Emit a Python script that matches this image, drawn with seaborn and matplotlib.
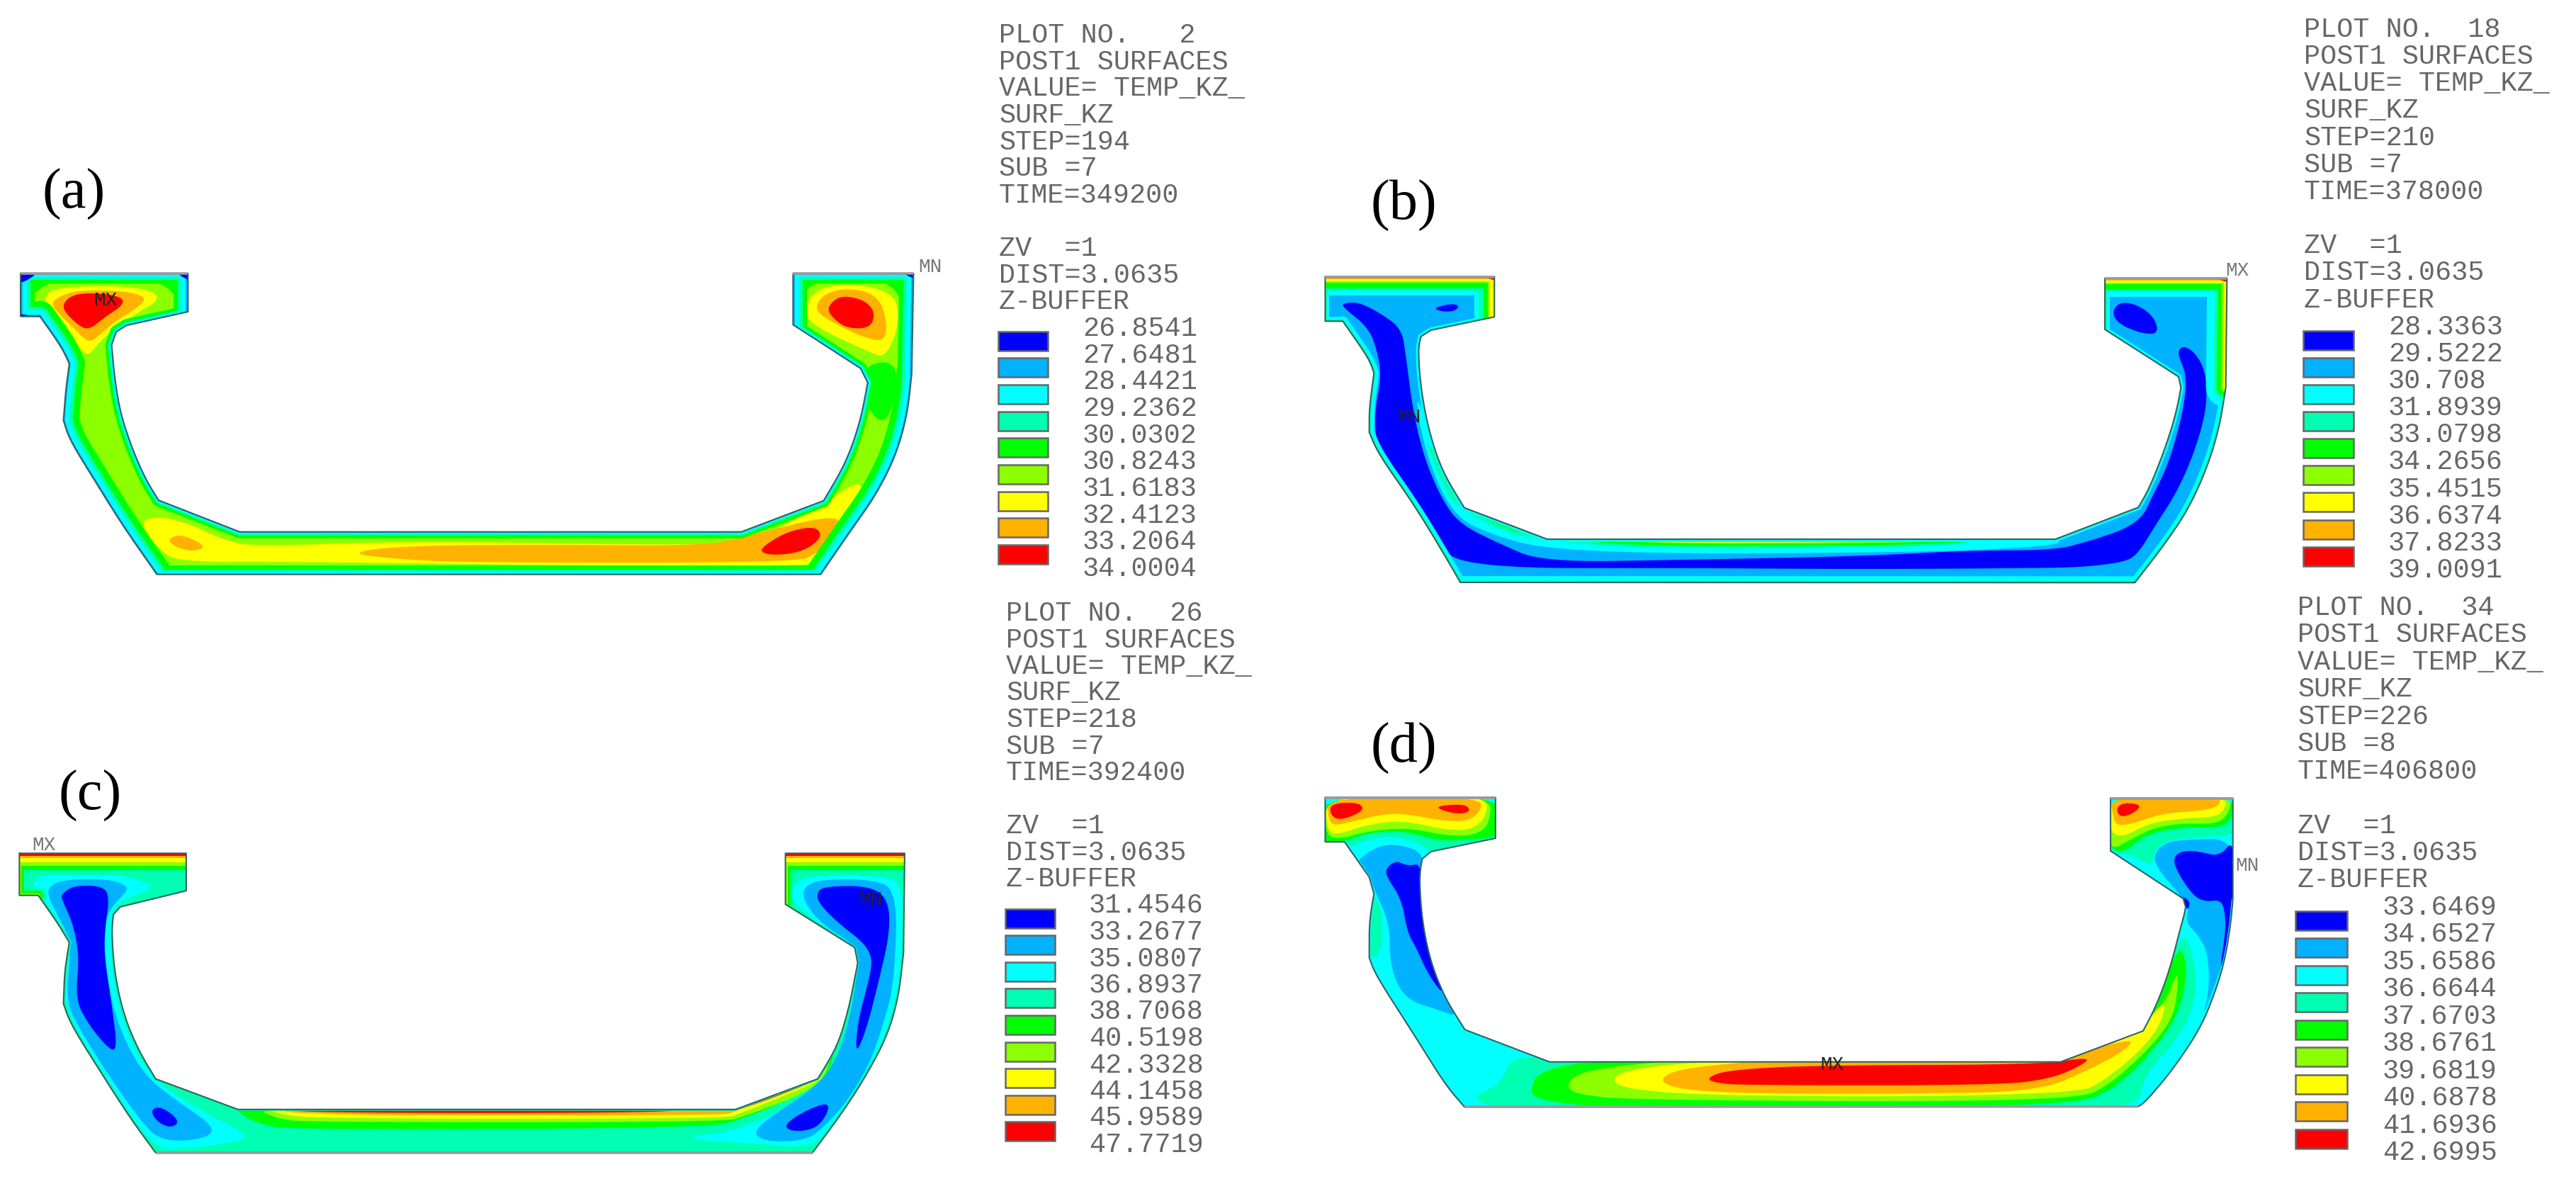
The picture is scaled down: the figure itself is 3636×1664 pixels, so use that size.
import numpy as np
import matplotlib
matplotlib.use("Agg")
import matplotlib.pyplot as plt
from matplotlib.patches import Polygon
import seaborn as sns

# ---------- legend data ----------
LEVEL_COLORS = ["#0000ff", "#00b2ff", "#00ffff", "#00ffb2", "#00ff00",
                "#8cff00", "#ffff00", "#ffb200", "#ff0000"]
VALUES_A = ["26.8541", "27.6481", "28.4421", "29.2362", "30.0302", "30.8243", "31.6183", "32.4123", "33.2064", "34.0004"]
VALUES_B = ["28.3363", "29.5222", "30.708", "31.8939", "33.0798", "34.2656", "35.4515", "36.6374", "37.8233", "39.0091"]
VALUES_C = ["31.4546", "33.2677", "35.0807", "36.8937", "38.7068", "40.5198", "42.3328", "44.1458", "45.9589", "47.7719"]
VALUES_D = ["33.6469", "34.6527", "35.6586", "36.6644", "37.6703", "38.6761", "39.6819", "40.6878", "41.6936", "42.6995"]
HEAD_A = ["PLOT NO.   2", "POST1 SURFACES", "VALUE= TEMP_KZ_", "SURF_KZ", "STEP=194", "SUB =7", "TIME=349200"]
HEAD_B = ["PLOT NO.  18", "POST1 SURFACES", "VALUE= TEMP_KZ_", "SURF_KZ", "STEP=210", "SUB =7", "TIME=378000"]
HEAD_C = ["PLOT NO.  26", "POST1 SURFACES", "VALUE= TEMP_KZ_", "SURF_KZ", "STEP=218", "SUB =7", "TIME=392400"]
HEAD_D = ["PLOT NO.  34", "POST1 SURFACES", "VALUE= TEMP_KZ_", "SURF_KZ", "STEP=226", "SUB =8", "TIME=406800"]
FOOT = ["", "ZV  =1", "DIST=3.0635", "Z-BUFFER"]

# ---------- reading frames: x0, y0, x scale, y scale ----------
FRAMES = {"A": (0, 300, 1.206, 3.0), "BL": (1800, 300, 1.206, 3.0), "BR": (2900, 340, 3.0, 3.0),
          "C": (0, 1100, 1.206, 2.78), "DL": (1800, 1050, 1.206, 2.554), "DR": (2900, 1080, 3.0, 3.0)}


def px(frame, pts):
    x0, y0, sx, sy = FRAMES[frame]
    return [(x0 + p[0] / sx, y0 + p[1] / sy) for p in pts]


# ---------- section outlines ----------
OUTLINE_A = {
    "top_l": px("A", [(35, 258), (320, 258)]),
    "fin_l": px("A", [(320, 258), (320, 420)]),
    "inner": px("A", [(320, 420), (215, 478), (198, 505), (190, 560), (195, 700), (205, 850), (225, 1000), (248, 1130), (270, 1218), (408, 1352), (1262, 1352), (1402, 1220), (1440, 1060), (1465, 880), (1477, 720), (1465, 660), (1350, 475)]),
    "fin_r": px("A", [(1350, 475), (1350, 258)]),
    "top_r": px("A", [(1350, 258), (1555, 258)]),
    "side_r": px("A", [(1555, 258), (1552, 680)]),
    "outer_r": px("A", [(1552, 680), (1545, 850), (1525, 1030), (1490, 1200), (1450, 1340), (1397, 1532)]),
    "bottom": px("A", [(1397, 1532), (267, 1532)]),
    "outer_l": px("A", [(267, 1532), (210, 1330), (160, 1130), (118, 960), (108, 880), (112, 750), (118, 640), (105, 570), (68, 440)]),
    "side_l": px("A", [(68, 440), (35, 440), (35, 258)]),
}
OUTLINE_B = {
    "top_l": px("BL", [(85, 272), (373, 272)]),
    "fin_l": px("BL", [(373, 272), (373, 442)]),
    "inner": px("BL", [(373, 442), (265, 498), (248, 525), (243, 580), (248, 750), (262, 930), (285, 1100), (322, 1250), (463, 1383), (1328, 1383)]) + px("BR", [(355, 1128), (400, 1050), (460, 900), (500, 780), (525, 680), (535, 620), (525, 575), (213, 375)]),
    "fin_r": px("BR", [(213, 375), (213, 158)]),
    "top_r": px("BR", [(213, 158), (730, 158)]),
    "side_r": px("BR", [(730, 158), (725, 620)]),
    "outer_r": px("BR", [(725, 620), (700, 780), (650, 950), (570, 1130), (470, 1280), (340, 1447)]),
    "bottom": px("BR", [(340, 1447)]) + px("BL", [(315, 1566)]),
    "outer_l": px("BL", [(315, 1566), (300, 1500), (240, 1250), (175, 1020), (160, 930), (160, 830), (168, 680), (160, 620), (115, 460)]),
    "side_l": px("BL", [(115, 460), (85, 460), (85, 272)]),
}
OUTLINE_C = {
    "top_l": px("C", [(33, 290), (317, 290)]),
    "fin_l": px("C", [(317, 290), (317, 437)]),
    "inner": px("C", [(317, 437), (205, 500), (193, 530), (190, 600), (195, 760), (210, 920), (235, 1060), (265, 1175), (405, 1295), (1252, 1295), (1392, 1175), (1425, 1050), (1445, 900), (1460, 720), (1455, 660), (1337, 490)]),
    "fin_r": px("C", [(1337, 490), (1337, 290)]),
    "top_r": px("C", [(1337, 290), (1540, 290)]),
    "side_r": px("C", [(1540, 290), (1538, 680)]),
    "outer_r": px("C", [(1538, 680), (1530, 850), (1510, 1010), (1470, 1180), (1430, 1320), (1383, 1465)]),
    "bottom": px("C", [(1383, 1465), (265, 1465)]),
    "outer_l": px("C", [(265, 1465), (225, 1340), (180, 1180), (120, 960), (108, 880), (110, 750), (118, 640), (100, 570), (65, 455)]),
    "side_l": px("C", [(65, 455), (33, 455), (33, 290)]),
}
OUTLINE_D = {
    "top_l": px("DL", [(85, 193), (375, 193)]),
    "fin_l": px("DL", [(375, 193), (375, 340)]),
    "inner": px("DL", [(375, 340), (265, 388), (250, 415), (245, 480), (250, 640), (265, 790), (290, 920), (323, 1030), (467, 1146), (1337, 1146)]) + px("DR", [(375, 1125), (420, 1040), (465, 930), (500, 820), (530, 700), (550, 630), (555, 600), (545, 565), (237, 363)]),
    "fin_r": px("DR", [(237, 363), (237, 140)]),
    "top_r": px("DR", [(237, 140), (755, 140)]),
    "side_r": px("DR", [(755, 140), (755, 570)]),
    "outer_r": px("DR", [(755, 570), (745, 680), (720, 830), (680, 960), (620, 1110), (500, 1290), (385, 1425), (355, 1445)]),
    "bottom": px("DR", [(355, 1445)]) + px("DL", [(322, 1308)]),
    "outer_l": px("DL", [(322, 1308), (290, 1230), (240, 1060), (170, 830), (160, 770), (160, 640), (168, 540), (160, 480), (118, 353)]),
    "side_l": px("DL", [(118, 353), (85, 353), (85, 193)]),
}

# ---------- contour bands, painted in order: z = zone, s = wall band (half widths in px) ----------
OPS_A = [
    ("base", 5),
    ("z", 6, px("A", [(78, 340), (110, 315), (200, 310), (260, 330), (272, 370), (230, 430), (190, 500), (165, 560), (150, 610), (130, 560), (100, 470), (78, 390)])),
    ("z", 7, px("A", [(90, 370), (125, 330), (200, 330), (245, 350), (245, 385), (190, 470), (165, 530), (150, 550), (130, 500), (105, 440), (90, 400)])),
    ("z", 8, px("A", [(107, 385), (125, 345), (170, 340), (210, 360), (208, 395), (180, 440), (150, 500), (130, 470), (110, 420)])),
    ("z", 6, px("A", [(1372, 380), (1400, 310), (1470, 305), (1520, 345), (1530, 420), (1525, 520), (1505, 615), (1480, 590), (1400, 500), (1370, 440)])),
    ("z", 7, px("A", [(1385, 400), (1410, 330), (1465, 322), (1500, 370), (1510, 480), (1505, 545), (1470, 530), (1405, 450)])),
    ("z", 8, px("A", [(1408, 400), (1430, 350), (1470, 368), (1490, 420), (1482, 490), (1440, 490), (1415, 440)])),
    ("z", 4, px("A", [(1470, 640), (1530, 630), (1520, 830), (1500, 900), (1470, 800)])),
    ("z", 6, px("A", [(245, 1290), (300, 1295), (380, 1385), (430, 1415), (700, 1390), (1240, 1412), (1300, 1370), (1400, 1240), (1462, 1130), (1470, 1200), (1440, 1350), (1400, 1480), (1370, 1495), (1000, 1495), (500, 1478), (300, 1480), (270, 1420), (245, 1350)])),
    ("z", 7, px("A", [(285, 1385), (305, 1362), (335, 1390), (350, 1420), (325, 1435), (298, 1415)])),
    ("z", 7, px("A", [(590, 1442), (680, 1412), (900, 1405), (1200, 1412), (1270, 1370), (1425, 1275), (1428, 1340), (1392, 1445), (1350, 1482), (800, 1482), (680, 1468)])),
    ("z", 8, px("A", [(1293, 1422), (1340, 1350), (1388, 1328), (1400, 1370), (1375, 1425), (1340, 1448), (1302, 1448)])),
    ("s", 4, {"top": 14, "fin": 20, "inner": 9, "side": 20, "outer": 22, "bottom": 13}),
    ("z", 4, px("A", [(30, 250), (125, 250), (125, 283), (90, 292), (65, 325), (55, 360), (30, 360)])),
    ("z", 4, px("A", [(325, 250), (230, 250), (230, 283), (265, 292), (290, 325), (298, 360), (325, 360)])),
    ("z", 4, px("A", [(1345, 250), (1430, 250), (1430, 283), (1395, 292), (1372, 325), (1365, 360), (1345, 360)])),
    ("z", 4, px("A", [(1560, 250), (1470, 250), (1470, 283), (1505, 295), (1525, 330), (1532, 370), (1560, 370)])),
    ("s", 3, {"top": 9, "fin": 14, "inner": 5, "side": 14, "outer": 13, "bottom": 7}),
    ("s", 2, {"top": 5, "fin": 9, "inner": 3, "side": 9, "outer": 8, "bottom": 4}),
    ("s", 1, {"top": 2, "fin": 3, "inner": 1, "side": 3, "outer": 2, "bottom": 1}),
    ("z", 0, px("A", [(30, 250), (70, 250), (30, 310)])),
    ("z", 0, px("A", [(30, 425), (65, 445), (30, 450)])),
    ("z", 0, px("A", [(295, 250), (330, 250), (330, 300)])),
    ("z", 0, px("A", [(1530, 250), (1565, 250), (1565, 290)])),
]
OPS_B = [
    ("base", 1),
    ("z", 0, px("BL", [(115, 385), (140, 378), (175, 420), (215, 490), (222, 600), (235, 850), (255, 1050), (285, 1220), (315, 1320), (380, 1400), (455, 1480), (700, 1470), (1000, 1455), (1180, 1430)]) + px("BR", [(0, 1310), (150, 1270), (300, 1220), (375, 1165), (410, 1090), (480, 950), (530, 780), (555, 650), (555, 560), (530, 500), (523, 465), (545, 445), (585, 465), (625, 520), (645, 600), (640, 730), (590, 900), (520, 1060), (430, 1200), (350, 1330), (290, 1360), (150, 1378), (0, 1385)]) + px("BL", [(1000, 1510), (700, 1505), (330, 1505), (270, 1400), (240, 1290), (190, 1100), (170, 950), (170, 830), (180, 700), (175, 600), (160, 490), (115, 400)])),
    ("z", 0, px("BR", [(245, 295), (280, 258), (350, 270), (420, 320), (440, 385), (400, 397), (320, 375), (260, 340)])),
    ("z", 0, px("BL", [(268, 405), (300, 385), (314, 395), (305, 418), (285, 420)])),
    ("z", 2, px("BL", [(240, 760), (262, 930), (285, 1100), (322, 1250), (463, 1375), (1328, 1375), (1340, 1410), (1100, 1440), (480, 1445), (340, 1340), (300, 1260), (268, 1100), (245, 900)])),
    ("z", 3, px("BL", [(250, 930), (285, 1095), (322, 1245), (463, 1375), (1235, 1375), (1120, 1420), (470, 1425), (310, 1270), (275, 1100)])),
    ("z", 4, px("BL", [(258, 960), (285, 1095), (322, 1245), (463, 1375), (1235, 1375), (1130, 1410), (480, 1415), (318, 1265), (282, 1110)])),
    ("z", 5, px("BL", [(265, 1000), (285, 1095), (322, 1245), (463, 1375), (1165, 1375), (1130, 1400), (470, 1403), (320, 1255), (287, 1095)])),
    ("z", 6, px("BL", [(275, 1050), (322, 1245), (463, 1375), (1135, 1375), (1040, 1398), (470, 1398), (325, 1252), (292, 1090)])),
    ("z", 7, px("BL", [(300, 1160), (322, 1245), (463, 1375), (885, 1375), (880, 1393), (468, 1393), (330, 1258)])),
    ("s", 2, {"top": 26, "fin_l": 28, "fin_r": 7, "side_r": 28, "side_l": 6, "inner": 4, "outer": 7, "bottom": 9}),
    ("s", 3, {"top": 19, "fin_l": 22, "fin_r": 3, "side_r": 17, "side_l": 2.5, "outer": 2.5, "bottom": 2.5, "inner": 1}),
    ("s", 4, {"top": 16, "fin_l": 15, "side_r": 13, "bottom": 1}),
    ("s", 5, {"top": 8, "fin_l": 9, "side_r": 7}),
    ("s", 6, {"top": 6, "fin_l": 6, "side_r": 4}),
    ("s", 7, {"top": 2.5}),
    ("z", 8, px("BR", [(665, 150), (740, 150), (740, 180)])),
    ("z", 8, px("BL", [(350, 265), (380, 265), (380, 295)])),
]
OPS_C = [
    ("base", 3),
    ("z", 2, px("C", [(55, 400), (80, 368), (180, 362), (260, 410), (255, 430), (205, 480), (190, 520), (188, 700), (200, 880), (230, 1070), (265, 1180), (300, 1240), (360, 1320), (422, 1395), (410, 1420), (310, 1450), (262, 1450), (180, 1180), (105, 880), (110, 640), (60, 450)])),
    ("z", 1, px("C", [(83, 420), (110, 392), (190, 392), (217, 420), (215, 440), (190, 500), (178, 560), (178, 700), (190, 880), (215, 1040), (250, 1170), (300, 1260), (358, 1350), (362, 1395), (320, 1420), (270, 1412), (240, 1340), (190, 1180), (130, 960), (112, 860), (122, 640), (100, 540), (82, 460)])),
    ("z", 0, px("C", [(105, 450), (125, 417), (170, 417), (187, 450), (178, 600), (178, 700), (190, 880), (200, 1062), (185, 1058), (150, 960), (128, 860), (135, 700), (125, 570), (105, 470)])),
    ("z", 0, px("C", [(256, 1300), (270, 1283), (292, 1310), (305, 1347), (290, 1367), (268, 1345)])),
    ("z", 2, px("C", [(1350, 410), (1380, 378), (1500, 378), (1540, 410), (1535, 800), (1515, 1000), (1475, 1180), (1425, 1330), (1385, 1445), (1300, 1432), (1150, 1408), (1250, 1380), (1320, 1310), (1400, 1200), (1430, 1070), (1450, 900), (1465, 720), (1460, 660), (1345, 490)])),
    ("z", 1, px("C", [(1368, 420), (1400, 392), (1480, 392), (1528, 430), (1522, 800), (1505, 950), (1480, 1120), (1440, 1270), (1400, 1370), (1370, 1417), (1310, 1422), (1282, 1395), (1300, 1340), (1395, 1200), (1430, 1070), (1450, 900), (1462, 710), (1455, 650), (1400, 570), (1368, 480)])),
    ("z", 0, px("C", [(1390, 450), (1400, 420), (1480, 417), (1512, 470), (1515, 600), (1495, 800), (1475, 980), (1456, 1085), (1460, 950), (1480, 780), (1485, 700), (1470, 640), (1430, 570), (1395, 490)])),
    ("z", 0, px("C", [(1333, 1358), (1370, 1300), (1412, 1265), (1407, 1320), (1387, 1372), (1350, 1383)])),
    ("z", 4, px("C", [(395, 1280), (1260, 1280), (1395, 1160), (1425, 1040), (1405, 1190), (1270, 1330), (1200, 1368), (500, 1375), (440, 1352), (405, 1305)])),
    ("z", 5, px("C", [(430, 1285), (1250, 1285), (1395, 1160), (1420, 1070), (1395, 1210), (1270, 1320), (1230, 1345), (520, 1345), (470, 1330)])),
    ("z", 6, px("C", [(450, 1285), (1250, 1285), (1395, 1165), (1400, 1180), (1260, 1312), (1230, 1331), (530, 1331), (470, 1310)])),
    ("z", 7, px("C", [(470, 1285), (1250, 1285), (1390, 1165), (1397, 1175), (1250, 1305), (1230, 1318), (500, 1318)])),
    ("z", 8, px("C", [(485, 1285), (1150, 1285), (1150, 1309), (500, 1309)])),
    ("z", 8, px("C", [(1240, 1290), (1385, 1170), (1392, 1182), (1255, 1302)])),
    ("s", 3, {"top": 31, "fin": 5, "side_l": 12, "side_r": 3, "outer": 3, "inner": 2, "bottom": 3}),
    ("s", 4, {"top": 24, "fin_r": 7, "side_l": 7, "bottom": 2}),
    ("s", 5, {"top": 18, "fin_r": 3, "side_l": 3}),
    ("s", 6, {"top": 13}),
    ("s", 7, {"top": 6.5}),
    ("s", 8, {"top": 3.5}),
]
OPS_D = [
    ("base", 2),
    ("z", 1, px("DL", [(130, 440), (170, 370), (210, 360), (260, 400), (250, 640), (290, 900), (310, 985), (280, 960), (220, 920), (195, 800), (195, 650), (170, 530), (160, 480)])),
    ("z", 0, px("DL", [(188, 450), (205, 420), (225, 440), (250, 430), (248, 600), (262, 780), (290, 915), (260, 830), (240, 735), (225, 680), (215, 560), (190, 480)])),
    ("z", 3, px("DL", [(165, 530), (182, 600), (182, 740), (165, 778), (150, 770), (150, 530)])),
    ("z", 1, px("DR", [(420, 420), (430, 360), (480, 325), (560, 315), (760, 310), (780, 560), (750, 700), (705, 860), (650, 1005), (630, 1060), (655, 950), (650, 800), (610, 720), (555, 665), (570, 600), (540, 560)])),
    ("z", 0, px("DR", [(500, 400), (530, 365), (600, 362), (700, 388), (760, 310), (780, 560), (750, 690), (720, 830), (700, 860), (725, 700), (720, 610), (700, 570), (640, 578), (590, 555), (530, 470)])),
    ("z", 0, px("DR", [(530, 550), (575, 575), (565, 615), (550, 590)])),
    ("z", 3, px("DL", [(75, 180), (385, 180), (385, 345), (265, 395), (245, 355), (205, 335), (160, 340), (135, 368), (118, 365), (75, 365)])),
    ("z", 4, px("DL", [(70, 180), (390, 180), (390, 330), (340, 345), (280, 350), (240, 325), (200, 312), (150, 325), (120, 352), (70, 358)])),
    ("z", 5, px("DL", [(85, 180), (368, 180), (365, 290), (340, 330), (290, 330), (240, 308), (200, 305), (150, 318), (115, 340), (85, 335)])),
    ("z", 6, px("DL", [(85, 180), (360, 180), (360, 260), (335, 310), (290, 310), (240, 285), (200, 278), (150, 295), (110, 325), (88, 320)])),
    ("z", 7, px("DL", [(90, 190), (350, 190), (350, 245), (325, 280), (280, 275), (230, 255), (190, 250), (130, 280), (100, 295), (90, 270)])),
    ("z", 8, px("DL", [(95, 215), (140, 210), (152, 235), (130, 262), (105, 274), (93, 250)])),
    ("z", 8, px("DL", [(268, 225), (320, 216), (332, 235), (325, 250), (300, 250)])),
    ("z", 3, px("DR", [(230, 130), (770, 130), (770, 270), (740, 300), (600, 305), (480, 320), (430, 350), (410, 425), (370, 405), (330, 385), (290, 375), (230, 365)])),
    ("z", 4, px("DR", [(230, 130), (770, 130), (750, 230), (700, 265), (560, 262), (430, 280), (350, 320), (300, 365), (230, 360)])),
    ("z", 5, px("DR", [(230, 130), (750, 130), (740, 200), (690, 250), (540, 245), (420, 265), (330, 310), (260, 350), (235, 340)])),
    ("z", 6, px("DR", [(230, 130), (730, 130), (720, 190), (680, 220), (540, 225), (400, 245), (300, 300), (250, 295), (235, 260)])),
    ("z", 7, px("DR", [(235, 130), (700, 130), (700, 168), (650, 190), (450, 205), (340, 245), (265, 258), (248, 220)])),
    ("z", 8, px("DR", [(265, 175), (300, 158), (368, 168), (340, 200), (290, 220), (266, 205)])),
    ("z", 3, px("DL", [(338, 1270), (385, 1225), (400, 1130), (467, 1130), (1337, 1130)]) + px("DR", [(375, 1100), (520, 750), (560, 720), (600, 870), (595, 1000), (540, 1130), (420, 1270), (370, 1350), (355, 1445)]) + px("DL", [(1300, 1315), (400, 1315), (350, 1295)])),
    ("z", 4, px("DL", [(435, 1250), (445, 1185), (520, 1145), (700, 1135), (1337, 1135)]) + px("DR", [(375, 1110), (470, 890), (525, 780), (545, 790), (560, 870), (540, 1000), (490, 1110), (420, 1200), (340, 1290), (230, 1380), (110, 1430)]) + px("DL", [(1100, 1312), (570, 1312), (470, 1290), (440, 1270)])),
    ("z", 5, px("DL", [(495, 1240), (510, 1190), (580, 1160), (700, 1140), (1337, 1135)]) + px("DR", [(375, 1110), (470, 1000), (515, 885), (525, 900), (510, 1040), (460, 1130), (350, 1250), (220, 1360), (110, 1410)]) + px("DL", [(1100, 1290), (600, 1282), (520, 1265)])),
    ("z", 6, px("DL", [(570, 1220), (590, 1180), (680, 1152), (840, 1138), (1337, 1135)]) + px("DR", [(375, 1110), (455, 1005), (470, 1030), (430, 1130), (330, 1240), (200, 1340), (110, 1385)]) + px("DL", [(1100, 1272), (750, 1267), (620, 1250)])),
    ("z", 7, px("DL", [(652, 1215), (680, 1175), (780, 1150), (900, 1135), (1337, 1135), (1462, 1058), (1450, 1100), (1390, 1170), (1300, 1252), (1100, 1260), (800, 1260), (690, 1245)])),
    ("z", 8, px("DL", [(733, 1205), (770, 1175), (920, 1158), (1300, 1156), (1388, 1128), (1372, 1160), (1320, 1207), (1230, 1230), (800, 1230), (750, 1222)])),
    ("s", 2, {"outer": 2, "bottom": 2}),
]

# ---------- layout ----------
PANELS = [
    dict(outline=OUTLINE_A, ops=OPS_A, head=HEAD_A, values=VALUES_A, tx=1410, ty=50, pitch=37.65, vx=1528, sw=(1409, 1479, 481, 37.7), grey=("top_l", "top_r")),
    dict(outline=OUTLINE_B, ops=OPS_B, head=HEAD_B, values=VALUES_B, tx=3252, ty=42, pitch=38.15, vx=3371, sw=(3251, 3322, 480, 38.15), grey=("top_l", "top_r")),
    dict(outline=OUTLINE_C, ops=OPS_C, head=HEAD_C, values=VALUES_C, tx=1420, ty=866, pitch=37.5, vx=1537, sw=(1419, 1489, 1296, 37.6), grey=("bottom",)),
    dict(outline=OUTLINE_D, ops=OPS_D, head=HEAD_D, values=VALUES_D, tx=3243, ty=858, pitch=38.45, vx=3363, sw=(3240, 3313, 1299, 38.5), grey=("top_l", "top_r", "bottom")),
]
PANEL_LABELS = [("(a)", 104, 274), ("(b)", 1981, 290), ("(c)", 127, 1123), ("(d)", 1981, 1056)]
MARKS = [("MX", 149, 424, "#222222"), ("MN", 1313, 377, "#777777"), ("MN", 1989, 589, "#222222"), ("MX", 3158, 382, "#777777"),
         ("MX", 62, 1193, "#777777"), ("MN", 1229, 1270, "#222222"), ("MX", 2586, 1503, "#222222"), ("MN", 3172, 1222, "#777777")]

sns.set_theme(style="white")
plt.rcParams["font.family"] = ["Liberation Mono", "DejaVu Sans"]
PAL = sns.color_palette(LEVEL_COLORS)
PT = 72 / 100  # points per pixel at dpi 100

fig = plt.figure(figsize=(36.37, 16.64), dpi=100)
ax = fig.add_axes([0, 0, 1, 1])
ax.set_xlim(0, 3637)
ax.set_ylim(1664, 0)
ax.axis("off")


def chaikin(pts, n=3):
    p = np.asarray(pts, float)
    for _ in range(n):
        q = np.roll(p, -1, axis=0)
        p = np.column_stack([0.75 * p + 0.25 * q, 0.25 * p + 0.75 * q]).reshape(-1, 2)
    return p


def soften(sec, n=3, limit=18):
    """Round the gentle bends of a wall, keeping its real corners."""
    p = [np.asarray(v, float) for v in sec]
    for _ in range(n):
        out = [p[0]]
        for a, b, c in zip(p, p[1:], p[2:]):
            u, v = b - a, c - b
            cos = np.dot(u, v) / (np.linalg.norm(u) * np.linalg.norm(v))
            if np.degrees(np.arccos(np.clip(cos, -1, 1))) < limit:
                out += [b + 0.25 * (a - b), b + 0.25 * (c - b)]
            else:
                out.append(b)
        out.append(p[-1])
        p = out
    return [tuple(v) for v in p]


def concat(outline):
    pts = []
    for sec in outline.values():
        pts.extend(sec if not pts else sec[1:])
    return np.asarray(pts)


def width_for(widths, name):
    return widths.get(name, widths.get(name.rsplit("_", 1)[0], 0))


for panel in PANELS:
    outline = {k: soften(v) for k, v in panel["outline"].items()}
    shape = concat(outline)
    clip = Polygon(shape, closed=True, facecolor="none", edgecolor="none", transform=ax.transData)
    ax.add_patch(clip)
    for op in panel["ops"]:
        if op[0] == "base":
            ax.fill(shape[:, 0], shape[:, 1], color=PAL[op[1]], lw=0, zorder=2)
        elif op[0] == "z":
            p = chaikin(op[2])
            for art in ax.fill(p[:, 0], p[:, 1], color=PAL[op[1]], lw=0, zorder=2):
                art.set_clip_path(clip)
        else:
            for name, sec in outline.items():
                w = width_for(op[2], name)
                if w > 0:
                    s = np.asarray(sec)
                    for art in ax.plot(s[:, 0], s[:, 1], color=PAL[op[1]], lw=2 * w * PT,
                                       solid_capstyle="round", solid_joinstyle="round", zorder=2):
                        art.set_clip_path(clip)
    closed = np.vstack([shape, shape[:1]])
    sns.lineplot(x=closed[:, 0], y=closed[:, 1], sort=False, estimator=None, color="#2f6464",
                 lw=1.5, ax=ax, zorder=3, legend=False)
    for name in panel["grey"]:
        s = np.asarray(outline[name])
        ax.plot(s[:, 0], s[:, 1], color="#9a9a9a", lw=2.6, zorder=4, solid_capstyle="butt")

    # legend text
    lines = panel["head"] + FOOT + panel["values"]
    for i, line in enumerate(lines):
        x = panel["vx"] if i >= len(panel["head"]) + len(FOOT) else panel["tx"]
        ax.text(x, panel["ty"] + i * panel["pitch"], line, fontsize=27.7, color="#666666",
                family=["Liberation Mono", "DejaVu Sans"], va="center", ha="left", zorder=5)
    # legend swatches
    x0, x1, y0, dy = panel["sw"]
    ys = [y0 + k * dy for k in range(len(LEVEL_COLORS))]
    ax.barh(ys, [x1 - x0] * len(ys), left=x0, height=27, color=PAL, edgecolor="#666666", lw=1.8, zorder=3)

for txt, x, y in PANEL_LABELS:
    ax.text(x, y, txt, fontsize=58, family=["Liberation Serif", "DejaVu Serif"], color="black",
            ha="center", va="center", zorder=6)
for txt, x, y, col in MARKS:
    ax.text(x, y, txt, fontsize=20, color=col, family=["Liberation Mono", "DejaVu Sans"],
            ha="center", va="center", zorder=6)

ax.set_xlim(0, 3637)
ax.set_ylim(1664, 0)
fig.savefig("out.png", dpi=100, facecolor="white")
